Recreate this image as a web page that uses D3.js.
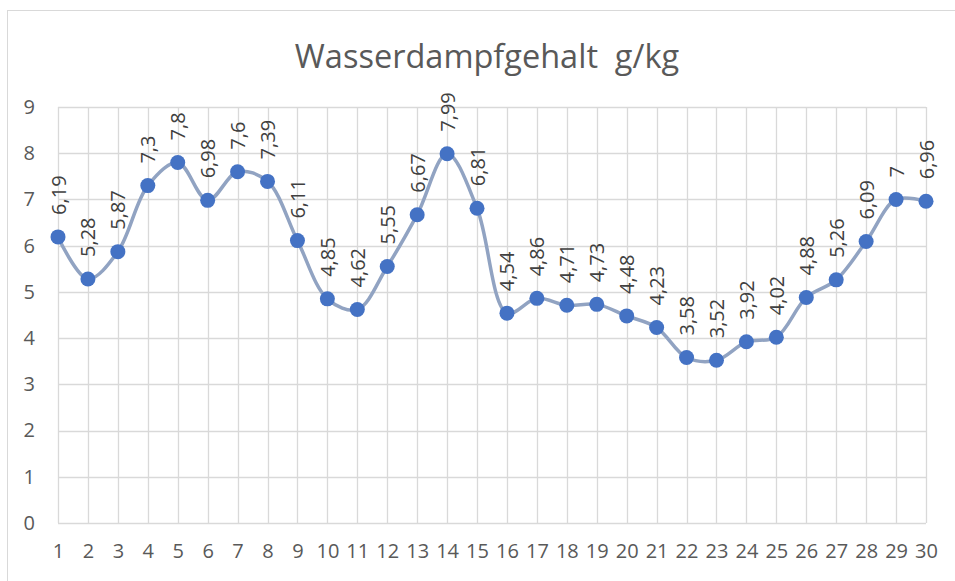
<!DOCTYPE html>
<html>
<head>
<meta charset="utf-8">
<script src="https://cdn.jsdelivr.net/npm/d3@7"></script>
<style>
  body { margin: 0; background: #fff; }
  text { font-family: "Open Sans", "Noto Sans", sans-serif; }
</style>
</head>
<body>
<div id="chart"></div>
<script>
// data
var days = d3.range(1, 31);
var values = [6.19, 5.28, 5.87, 7.3, 7.8, 6.98, 7.6, 7.39, 6.11, 4.85,
              4.62, 5.55, 6.67, 7.99, 6.81, 4.54, 4.86, 4.71, 4.73, 4.48,
              4.23, 3.58, 3.52, 3.92, 4.02, 4.88, 5.26, 6.09, 7, 6.96];
var yTicks = [0, 1, 2, 3, 4, 5, 6, 7, 8, 9];
var title = "Wasserdampfgehalt\u00a0\u00a0g/kg";

var data = days.map(function(d, i) { return {day: d, value: values[i]}; });

var W = 955, H = 581;
var margin = {top: 107, right: 29, bottom: 58, left: 58};
var width = W - margin.left - margin.right,
    height = H - margin.top - margin.bottom;

var svg = d3.select("#chart").append("svg")
    .attr("width", W)
    .attr("height", H);

// chart frame
svg.append("rect")
    .attr("x", 7.5).attr("y", 10.5)
    .attr("width", W + 10).attr("height", H + 10)
    .attr("fill", "none")
    .attr("stroke", "#d9d9d9");

svg.append("text")
    .attr("x", 487).attr("y", 68)
    .attr("text-anchor", "middle")
    .attr("font-size", 32.5)
    .attr("fill", "#595959")
    .text(title);

var g = svg.append("g")
    .attr("transform", "translate(" + margin.left + "," + margin.top + ")");

var x = d3.scalePoint().domain(days).range([0, width]);
var y = d3.scaleLinear().domain([0, 9]).range([height, 0]);

// horizontal gridlines
g.append("g")
    .selectAll("line").data(yTicks).enter().append("line")
    .attr("x1", 0).attr("x2", width)
    .attr("y1", function(d) { return Math.round(y(d)) + 0.5; })
    .attr("y2", function(d) { return Math.round(y(d)) + 0.5; })
    .attr("stroke", "#d9d9d9").attr("stroke-width", 1.3);

// vertical gridlines
g.append("g")
    .selectAll("line").data(days).enter().append("line")
    .attr("x1", function(d) { return Math.round(x(d)) + 0.5; })
    .attr("x2", function(d) { return Math.round(x(d)) + 0.5; })
    .attr("y1", 0).attr("y2", height)
    .attr("stroke", "#d9d9d9").attr("stroke-width", 1.3);

// y axis labels
var yAxis = g.append("g")
    .call(d3.axisLeft(y).tickValues(yTicks).tickSize(0).tickPadding(23));
yAxis.select(".domain").remove();
yAxis.selectAll("text")
    .attr("font-size", 20)
    .attr("fill", "#595959")
    .style("font-family", "'Open Sans', sans-serif");

// x axis labels
var xAxis = g.append("g")
    .attr("transform", "translate(0," + height + ")")
    .call(d3.axisBottom(x).tickSize(0).tickPadding(21));
xAxis.select(".domain").remove();
xAxis.selectAll("text")
    .attr("font-size", 20)
    .attr("fill", "#595959")
    .style("font-family", "'Open Sans', sans-serif");

// the smoothed line
var line = d3.line()
    .x(function(d) { return x(d.day); })
    .y(function(d) { return y(d.value); })
    .curve(d3.curveCatmullRom.alpha(0.5));

g.append("path")
    .datum(data)
    .attr("fill", "none")
    .attr("stroke", "#91a3c2")
    .attr("stroke-width", 3.5)
    .attr("d", line);

// markers
g.append("g")
    .selectAll("circle").data(data).enter().append("circle")
    .attr("cx", function(d) { return x(d.day); })
    .attr("cy", function(d) { return y(d.value); })
    .attr("r", 7.5)
    .attr("fill", "#4472c4");

// rotated data labels
g.append("g")
    .selectAll("text").data(data).enter().append("text")
    .attr("transform", function(d) {
      return "translate(" + (x(d.day) + 7.5) + "," + (y(d.value) - 22) + ") rotate(-90)";
    })
    .attr("font-size", 20)
    .attr("fill", "#404040")
    .text(function(d) { return String(d.value).replace(".", ","); });
</script>
</body>
</html>
